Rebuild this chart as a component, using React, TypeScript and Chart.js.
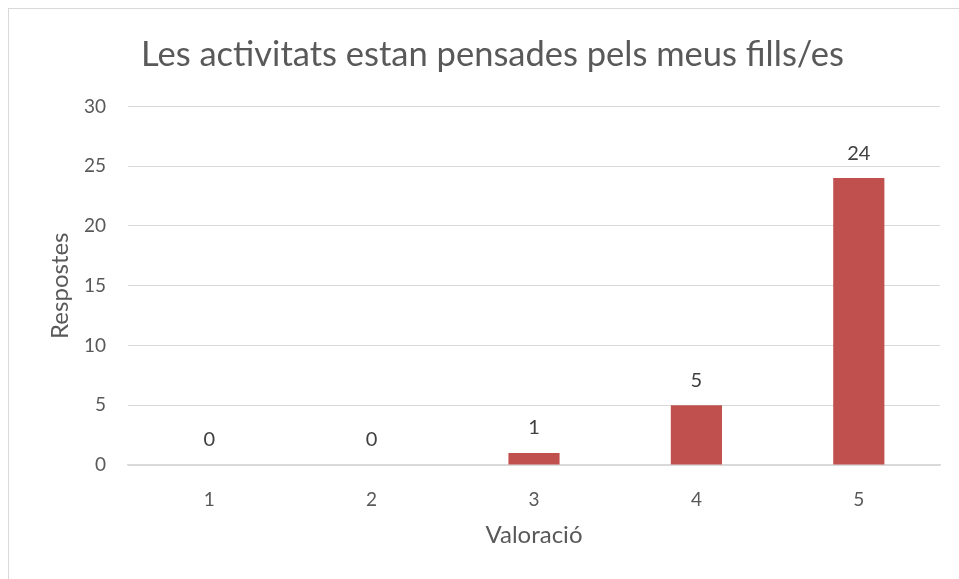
import React, { useEffect, useRef } from "react";
import { Chart, registerables } from "chart.js";

Chart.register(...registerables);

const categories = ["1", "2", "3", "4", "5"];
const responses = [0, 0, 1, 5, 24];
const chartTitle = "Les activitats estan pensades pels meus fills/es";
const xTitle = "Valoració";
const yTitle = "Respostes";

const FONT = "Lato, 'Open Sans', sans-serif";

const valueLabels = {
  id: "valueLabels",
  afterDatasetsDraw(chart: any) {
    const ctx = chart.ctx;
    const meta = chart.getDatasetMeta(0);
    ctx.save();
    ctx.font = `20px ${FONT}`;
    ctx.fillStyle = "#404040";
    ctx.textAlign = "center";
    ctx.textBaseline = "middle";
    meta.data.forEach((el: any, i: number) => {
      const v = chart.data.datasets[0].data[i];
      ctx.fillText(String(v), el.x, el.y - 25);
    });
    ctx.restore();
  },
};

export default function App() {
  const ref = useRef<HTMLCanvasElement>(null);
  useEffect(() => {
    if (!ref.current) return;
    const chart = new Chart(ref.current, {
      type: "bar",
      data: {
        labels: categories,
        datasets: [
          {
            data: responses,
            backgroundColor: "#C0504D",
            categoryPercentage: 1,
            barPercentage: 0.315,
          },
        ],
      },
      plugins: [valueLabels],
      options: {
        animation: false,
        responsive: true,
        maintainAspectRatio: false,
        layout: { padding: { left: 36, right: 19, top: 0, bottom: 0 } },
        plugins: {
          legend: { display: false },
          tooltip: { enabled: false },
          title: {
            display: true,
            text: chartTitle,
            color: "#595959",
            font: { family: FONT, size: 34.5, weight: "normal" },
            padding: { top: 25, bottom: 31 },
          },
        },
        scales: {
          x: {
            grid: { display: false, drawTicks: false },
            border: { display: true, color: "#D9D9D9", width: 1.5 },
            ticks: { color: "#595959", font: { family: FONT, size: 19 }, padding: 23 },
            title: {
              display: true,
              text: xTitle,
              color: "#595959",
              font: { family: FONT, size: 24 },
              padding: { top: 0, bottom: 29 },
            },
            afterFit(scale: any) {
              scale.height = 114;
            },
          },
          y: {
            min: 0,
            max: 30,
            ticks: { stepSize: 5, color: "#595959", font: { family: FONT, size: 19 }, padding: 22 },
            grid: { color: "#D9D9D9", drawTicks: false },
            border: { display: false },
            title: {
              display: true,
              text: yTitle,
              color: "#595959",
              font: { family: FONT, size: 24 },
              padding: { top: 1, bottom: 0 },
            },
            afterFit(scale: any) {
              scale.width = 83;
            },
          },
        },
      },
    });
    return () => chart.destroy();
  }, []);
  return (
    <div
      style={{
        position: "absolute",
        left: 8,
        top: 8,
        width: 951,
        height: 571,
        boxSizing: "border-box",
        borderLeft: "1px solid #D9D9D9",
        borderTop: "1px solid #D9D9D9",
        background: "#fff",
      }}
    >
      <canvas ref={ref} />
    </div>
  );
}
